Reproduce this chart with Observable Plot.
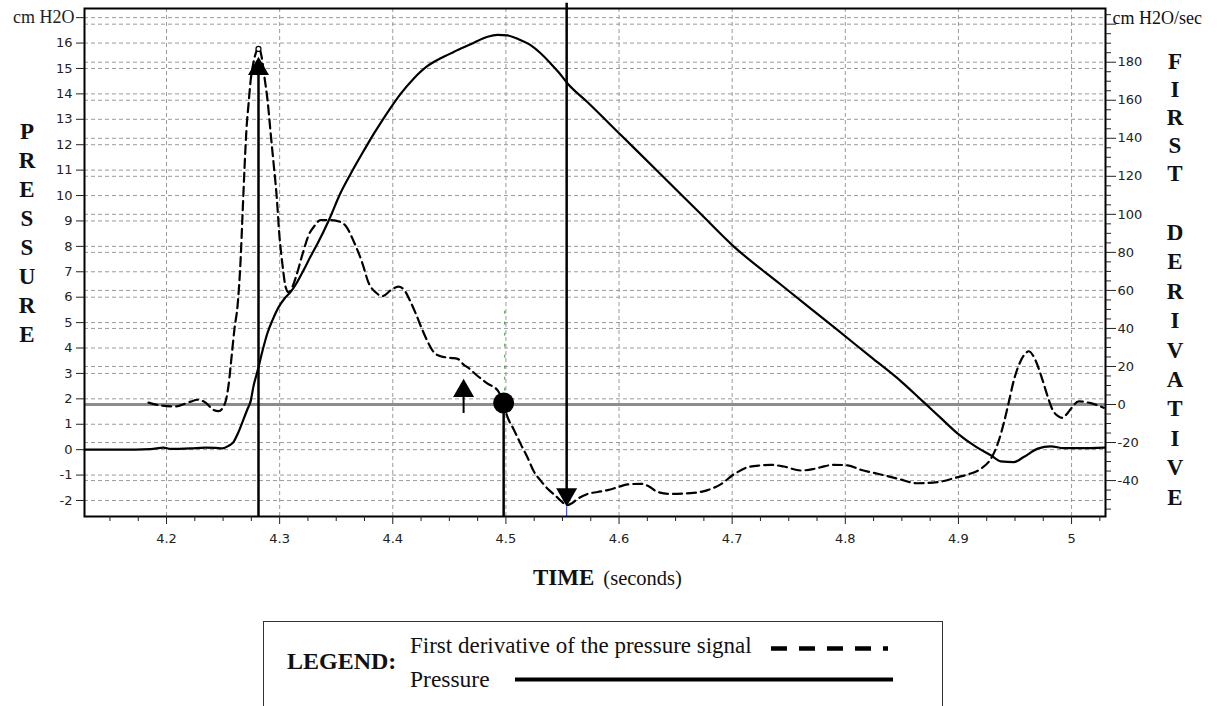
<!DOCTYPE html>
<html><head><meta charset="utf-8">
<script src="https://cdn.jsdelivr.net/npm/d3@7"></script>
<script src="https://cdn.jsdelivr.net/npm/@observablehq/plot@0.6"></script>
<style>
body{margin:0;background:#fff;}
#wrap{position:relative;width:1217px;height:706px;overflow:hidden;background:#fff;}
#chart{position:absolute;left:0;top:0;}
.stack{position:absolute;width:30px;text-align:center;font-family:"Liberation Serif","Times New Roman",serif;font-weight:bold;font-size:23px;color:#111;white-space:pre;}
.serif{font-family:"Liberation Serif","Times New Roman",serif;color:#111;position:absolute;line-height:1;white-space:nowrap;}
#legend{position:absolute;left:263px;top:621px;width:680px;height:110px;border:1.5px solid #333;box-sizing:border-box;}
#legend svg{position:absolute;left:0;top:0;}
</style></head>
<body><div id="wrap"><div id="chart"></div>
<div class="stack" style="left:12px;top:117px;line-height:29px;">P
R
E
S
S
U
R
E</div>
<div class="stack" style="left:1160px;top:48px;line-height:28px;">F
I
R
S
T</div>
<div class="stack" style="left:1160px;top:218px;line-height:29.4px;">D
E
R
I
V
A
T
I
V
E</div>
<div class="serif" style="left:533px;top:566px;"><b style="font-size:23px;">TIME</b><span style="font-size:20.5px;margin-left:9px;">(seconds)</span></div>
<div id="legend">
  <div class="serif" style="left:23px;top:27px;font-size:24px;font-weight:bold;">LEGEND:</div>
  <div class="serif" style="left:146px;top:12px;font-size:23px;">First derivative of the pressure signal</div>
  <div class="serif" style="left:146px;top:46px;font-size:23.5px;">Pressure</div>
  <svg width="680" height="110">
    <line x1="507" x2="624" y1="26.5" y2="26.5" stroke="#000" stroke-width="4.5" stroke-dasharray="16,12"/>
    <line x1="251" x2="629" y1="57.5" y2="57.5" stroke="#000" stroke-width="4"/>
  </svg>
</div>
</div>
<script>
// ---- data ----
const pressureTime = [4.1275,4.1593,4.1859,4.1973,4.2035,4.2212,4.2345,4.2433,4.2495,4.2548,4.2592,4.2637,4.2681,4.2716,4.2743,4.2769,4.2805,4.2849,4.2893,4.2937,4.2990,4.3043,4.3096,4.3149,4.3211,4.3273,4.3335,4.3432,4.3538,4.3627,4.3742,4.3821,4.3892,4.3981,4.4069,4.4184,4.4308,4.4423,4.4538,4.4688,4.4838,4.4927,4.5015,4.5112,4.5218,4.5307,4.5395,4.5466,4.5545,4.5722,4.6014,4.6368,4.6721,4.7013,4.7429,4.7933,4.8225,4.8490,4.8693,4.8843,4.8994,4.9153,4.9286,4.9374,4.9489,4.9577,4.9701,4.9816,4.9931,5.0081,5.0293];
const pressureValue = [0,0,0.02,0.08,0.03,0.05,0.08,0.07,0.05,0.15,0.3,0.7,1.2,1.6,1.9,2.5,3.1,3.9,4.6,5.1,5.6,5.95,6.2,6.55,7.06,7.6,8.11,9.0,10.1,10.85,11.75,12.35,12.85,13.45,14.0,14.6,15.1,15.4,15.65,15.95,16.25,16.32,16.3,16.15,15.92,15.6,15.2,14.85,14.41,13.67,12.39,10.84,9.28,8.0,6.5,4.7,3.65,2.7,1.87,1.25,0.63,0.12,-0.22,-0.46,-0.49,-0.29,0.04,0.13,0.06,0.06,0.08];

const derivTime = [4.1841,4.1947,4.2080,4.2212,4.2274,4.2345,4.2407,4.2460,4.2513,4.2548,
 4.2575,4.2601,4.2628,4.2654,4.2672,4.2690,4.2707,4.2725,4.2743,4.2769,
 4.2796,4.2813,4.2840,4.2866,4.2893,4.2920,4.2946,4.2973,4.2999,4.3026,
 4.3052,4.3079,4.3114,4.3149,4.3202,4.3256,4.3309,4.3362,4.3450,4.3538,
 4.3583,4.3653,4.3733,4.3786,4.3848,4.3910,4.3981,4.4051,4.4104,4.4149,
 4.4202,4.4263,4.4317,4.4370,4.4423,4.4511,4.4573,4.4626,4.4661,4.4750,
 4.4838,4.4927,4.4971,4.5015,4.5068,4.5130,4.5192,4.5245,4.5307,4.5369,
 4.5439,4.5492,4.5537,4.5581,4.5634,4.5722,4.5811,4.5899,4.5988,4.6076,
 4.6191,4.6262,4.6341,4.6456,4.6633,4.6783,4.6898,4.7013,4.7137,4.7252,
 4.7340,4.7455,4.7606,4.7712,4.7782,4.7897,4.8021,4.8136,4.8286,4.8463,
 4.8640,4.8817,4.8994,4.9082,4.9197,4.9286,4.9347,4.9400,4.9445,4.9489,
 4.9551,4.9595,4.9622,4.9657,4.9683,4.9745,4.9790,4.9834,4.9878,4.9922,
 4.9958,4.9993,5.0064,5.0170,5.0285];
const derivValue = [1,-0.5,-1,1.5,2.5,1,-2.5,-3.5,0,10,
 25,40,52,75,100,125,145,158,170,180,
 186,188,183,172,160,143,127,110,88,73,
 62,59,62,68,79,89,94,97,97,96,
 94,86,74,64,59,57,60,62,60,55,
 48,39,32,27,25.4,24.5,24,21,19.6,15,
 11,7.4,2,-6.7,-13,-20.7,-28,-35,-40,-44.3,
 -48,-51,-53,-52,-49.6,-47,-46,-45,-43.5,-42,
 -41.7,-43,-46,-47,-46.6,-45,-42,-36.8,-33,-32,
 -31.7,-32.6,-34.7,-34,-33,-31.7,-32,-34.3,-36.4,-39,
 -41.4,-40.8,-38.2,-36.8,-33.8,-28.6,-20.7,-10,1.2,12.6,
 23,27,28,26,23,12.6,4,-3,-6,-7,
 -5,-2.3,1.6,0.7,-1.7];

// event markers (time in s, derivative value in cm H2O/sec)
const onsetTime = 4.2813, onsetHead = 176.5, onsetPeak = 187;
const zeroCrossTime = 4.4980, zeroCrossDeriv = 0.8;
const minTime = 4.5537, minHead = -47.2;
const smallArrowTime = 4.4626, smallArrowHead = 7.2, smallArrowTail = -4.7;
const greenTime = 4.4990, greenFrom = 7, greenTo = 52;

// axes
const pressureTicks = [-2,-1,0,1,2,3,4,5,6,7,8,9,10,11,12,13,14,15,16];
const pressureTopTick = 17;
const derivTicks = [-40,-20,0,20,40,60,80,100,120,140,160,180];
const derivGridTicks = [-40,-20,0,20,40,60,80,100,120,140,160,180,200];
const timeTicks = [4.2,4.3,4.4,4.5,4.6,4.7,4.8,4.9,5.0];
const timeDomain = [4.1275, 5.030];
const pressureDomain = [-2.63, 17.36];

// derivative axis is drawn on the pressure scale: P = DERIV_ZERO + DERIV_PER * D
const DERIV_ZERO = 1.777, DERIV_PER = 0.07483;
const toP = d => DERIV_ZERO + DERIV_PER * d;

const pressure = pressureTime.map((t, i) => ({t, v: pressureValue[i]}));
const deriv = derivTime.map((t, i) => ({t, v: toP(derivValue[i])}));

const derivMinor = d3.range(-55, 206, 5).filter(d => d % 20 !== 0);
const timeMinor = d3.range(4.15, 5.03, 0.025).filter(t => Math.abs(t*10 - Math.round(t*10)) > 1e-6);

const yMin = pressureDomain[0];
const yTopExt = toP(211);

const gridStyle = {stroke: "#9a9a9a", strokeWidth: 1, strokeDasharray: "4,3"};

const chart = Plot.plot({
  width: 1217, height: 612,
  marginLeft: 84, marginRight: 112, marginTop: 8, marginBottom: 96,
  style: {fontFamily: "'DejaVu Sans', sans-serif", fontSize: "13px", color: "#222", background: "#fff"},
  x: {domain: timeDomain},
  y: {domain: pressureDomain},
  marks: [
    Plot.ruleY(pressureTicks.concat([pressureTopTick]), gridStyle),
    Plot.ruleY(derivGridTicks.map(toP), gridStyle),
    Plot.ruleX(timeTicks, gridStyle),
    Plot.ruleY([toP(0)], {stroke: "#8c8c8c", strokeWidth: 3}),
    Plot.line(deriv, {x: "t", y: "v", stroke: "#000", strokeWidth: 2.2, strokeDasharray: "9,5", curve: "monotone-x"}),
    Plot.line(pressure, {x: "t", y: "v", stroke: "#000", strokeWidth: 2.2, curve: "monotone-x"}),
    // green dotted marker
    Plot.ruleX([greenTime], {y1: toP(greenFrom), y2: toP(greenTo), stroke: "#2a9a2a", strokeWidth: 1, strokeDasharray: "3,8"}),
    // vertical event lines
    Plot.ruleX([onsetTime], {y1: yMin, y2: toP(onsetHead), stroke: "#000", strokeWidth: 2.5}),
    Plot.ruleX([zeroCrossTime], {y1: yMin, y2: toP(zeroCrossDeriv), stroke: "#000", strokeWidth: 2.5}),
    Plot.ruleX([minTime], {y1: yTopExt, y2: toP(minHead), stroke: "#000", strokeWidth: 2.5}),
    Plot.ruleX([minTime], {y1: yMin, y2: toP(-54), stroke: "#2233dd", strokeWidth: 1}),
    Plot.ruleX([smallArrowTime], {y1: toP(smallArrowTail), y2: toP(smallArrowHead), stroke: "#000", strokeWidth: 2}),
    // markers
    Plot.dot([{t: onsetTime, v: toP(onsetHead)}, {t: smallArrowTime, v: toP(smallArrowHead)}], {x: "t", y: "v", symbol: "triangle", r: 7.8, fill: "#000", stroke: null}),
    Plot.dot([{t: minTime, v: toP(minHead)}], {x: "t", y: "v", symbol: "triangle", r: 7.8, fill: "#000", stroke: null, rotate: 180}),
    Plot.dot([{t: zeroCrossTime, v: toP(zeroCrossDeriv)}], {x: "t", y: "v", r: 10.5, fill: "#000", stroke: null}),
    Plot.dot([{t: onsetTime, v: toP(onsetPeak)}], {x: "t", y: "v", r: 2.5, fill: "#fff", stroke: "#000", strokeWidth: 1.2}),
    Plot.frame({stroke: "#000", strokeWidth: 2}),
    // left axis
    Plot.axisY({anchor: "left", ticks: pressureTicks, tickSize: 8, tickPadding: 4, label: null, fontSize: 13, tickFormat: d => String(d)}),
    Plot.axisY({anchor: "left", ticks: [pressureTopTick], tickSize: 8, tickPadding: 2, label: null, tickFormat: () => "cm H2O", fontSize: 18, fontFamily: "'Liberation Serif', serif"}),
    // right axis
    Plot.axisY({anchor: "right", ticks: derivTicks.map(toP), tickSize: 10, tickPadding: 2, label: null, fontSize: 13, tickFormat: (p, i) => String(derivTicks[i])}),
    Plot.axisY({anchor: "right", ticks: derivMinor.map(toP), tickSize: 5, label: null, tickFormat: () => ""}),
    Plot.axisY({anchor: "right", ticks: [toP(200)], tickSize: 10, label: null, tickFormat: () => ""}),
    Plot.text(["cm H2O/sec"], {frameAnchor: "right", y: toP(203), dx: 7, textAnchor: "start", fontSize: 18, fontFamily: "'Liberation Serif', serif", fill: "#111"}),
    // bottom axis
    Plot.axisX({anchor: "bottom", ticks: timeTicks, tickSize: 8, tickPadding: 9, label: null, fontSize: 13, tickFormat: d => d === 5 ? "5" : d.toFixed(1)}),
    Plot.axisX({anchor: "bottom", ticks: timeMinor, tickSize: 5, label: null, tickFormat: () => ""})
  ]
});
document.getElementById("chart").appendChild(chart);
</script>
</body></html>
